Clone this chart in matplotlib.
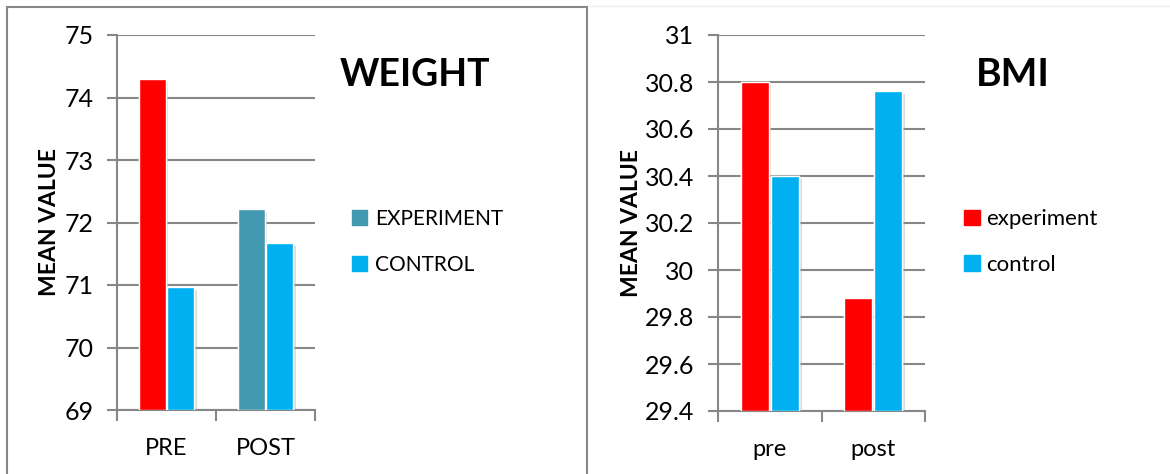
import matplotlib.pyplot as plt
from matplotlib.patches import Patch, Rectangle
import matplotlib.patheffects as pe

plt.rcParams['font.family'] = ['Lato', 'DejaVu Sans']

# Weight chart
w_cats = ['PRE', 'POST']
w_experiment = [74.3, 72.22]
w_control = [70.97, 71.67]
w_exp_colors = ['#ff0000', '#4298b0']

# BMI chart
b_cats = ['pre', 'post']
b_experiment = [30.80, 29.88]
b_control = [30.40, 30.76]

red = '#ff0000'
teal = '#4298b0'
cyan = '#00b0f0'
gray = '#878787'

fig = plt.figure(figsize=(11.7, 4.74), dpi=100)

shadow = [pe.withSimplePatchShadow(offset=(2, -2), shadow_rgbFace='#999999', alpha=0.35), pe.Normal()]


def draw(ax, cats, exp, ctrl, exp_colors, ymin, ymax, step, fmt, labx):
    x = range(len(cats))
    w = 0.27
    off = 0.145
    ax.bar([i - off for i in x], [v - ymin for v in exp], w, bottom=ymin,
           color=exp_colors, edgecolor='white', linewidth=1, path_effects=shadow, zorder=3)
    ax.bar([i + off for i in x], [v - ymin for v in ctrl], w, bottom=ymin,
           color=cyan, edgecolor='white', linewidth=1, path_effects=shadow, zorder=3)
    ax.set_xlim(-0.5, len(cats) - 0.5)
    ax.set_ylim(ymin, ymax)
    n = int(round((ymax - ymin) / step))
    ticks = [ymin + k * step for k in range(n + 1)]
    ax.set_yticks(ticks)
    ax.set_yticklabels([fmt(t) for t in ticks])
    ax.set_xticks(list(x))
    ax.set_xticklabels(cats)
    ax.set_xticks([-0.5 + k for k in range(len(cats) + 1)], minor=True)
    ax.tick_params(axis='x', which='major', length=0, pad=20, labelsize=17, colors='black')
    ax.tick_params(axis='x', which='minor', length=8, width=1.5, color=gray, direction='out')
    ax.tick_params(axis='y', length=7, width=1.5, color=gray, pad=10, labelsize=18)
    ax.yaxis.grid(True, color=gray, linewidth=1.5)
    ax.set_axisbelow(True)
    for s in ['top', 'right']:
        ax.spines[s].set_visible(False)
    for s in ['left', 'bottom']:
        ax.spines[s].set_color(gray)
        ax.spines[s].set_linewidth(1.5)
    ax.set_ylabel('MEAN VALUE', fontsize=16.5, fontweight='bold')
    ax.yaxis.set_label_coords(labx, 0.5)


ax1 = fig.add_axes([117 / 1170, 1 - 410 / 474, 198 / 1170, 375 / 474])
draw(ax1, w_cats, w_experiment, w_control, w_exp_colors, 69, 75, 1,
     lambda t: '%d' % t, -0.29)

ax2 = fig.add_axes([718 / 1170, 1 - 411 / 474, 207 / 1170, 376 / 474])
draw(ax2, b_cats, b_experiment, b_control, [red, red], 29.4, 31.0, 0.2,
     lambda t: ('%.1f' % t).rstrip('0').rstrip('.'), -0.365)

fig.text(415 / 1170, 1 - 75 / 474, 'WEIGHT', fontsize=27, fontweight='bold', ha='center', va='center')
fig.text(1013 / 1170, 1 - 75 / 474, 'BMI', fontsize=28, fontweight='bold', ha='center', va='center')

h1 = [Patch(color=teal), Patch(color=cyan)]
fig.legend(h1, ['EXPERIMENT', 'CONTROL'], loc='center left',
           bbox_to_anchor=(333 / 1170, 1 - 242 / 474), frameon=False, fontsize=15,
           handlelength=0.72, handleheight=0.72, handletextpad=0.4, labelspacing=1.25)
h2 = [Patch(color=red), Patch(color=cyan)]
fig.legend(h2, ['experiment', 'control'], loc='center left',
           bbox_to_anchor=(944 / 1170, 1 - 242 / 474), frameon=False, fontsize=16,
           handlelength=0.7, handleheight=0.7, handletextpad=0.3, labelspacing=1.15)

# panel frames
fig.add_artist(Rectangle((6.5 / 1170, -0.02), 580 / 1170, 1.02 - 7 / 474, transform=fig.transFigure,
                         fill=False, edgecolor=gray, linewidth=1.5))
fig.add_artist(plt.Line2D([590 / 1170, 1], [1 - 6 / 474, 1 - 6 / 474], transform=fig.transFigure,
                          color='#eeeeee', linewidth=1))

fig.savefig('out.png', dpi=100)
